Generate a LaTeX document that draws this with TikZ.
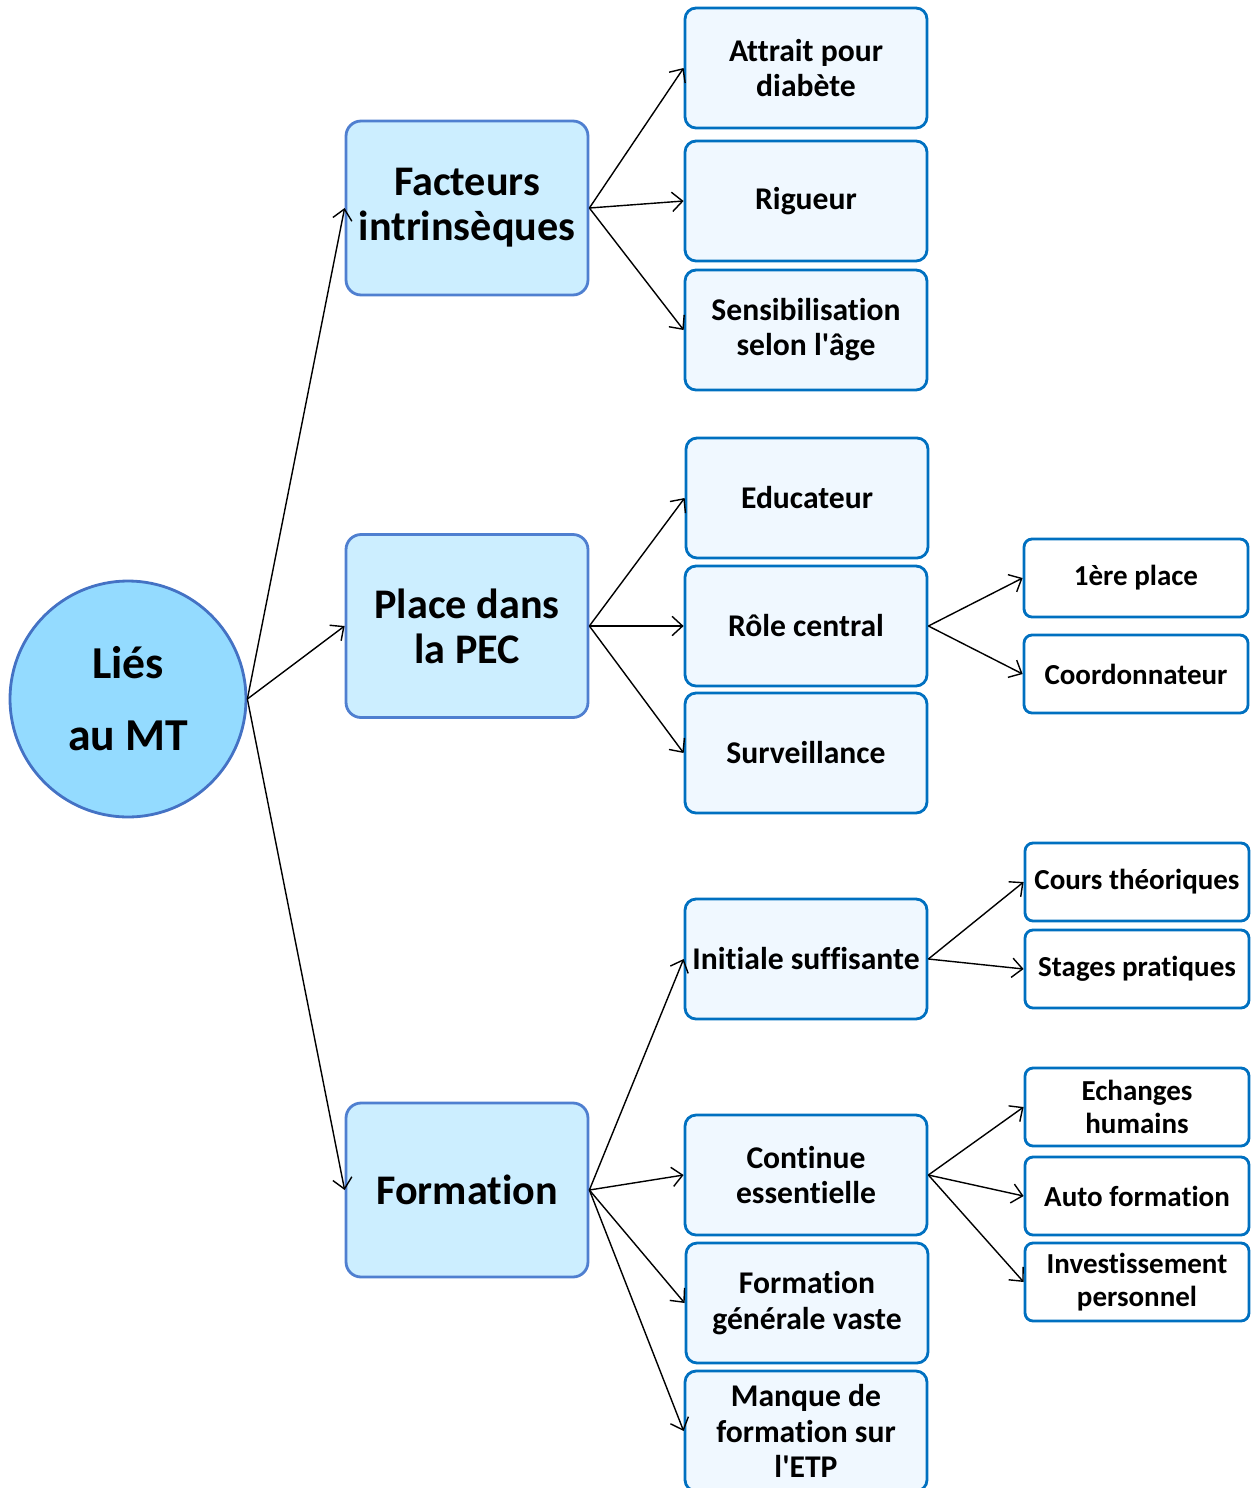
\documentclass[tikz,border=0pt]{standalone}
\usepackage{fontspec}
\setmainfont{Carlito}[Ligatures={TeXOff,NoCommon}, RawFeature={-liga;-clig;-calt;-dlig}]
\usetikzlibrary{arrows.meta}
\definecolor{rootfill}{HTML}{94DBFF}
\definecolor{rootline}{HTML}{4472C4}
\definecolor{topicfill}{HTML}{CCEEFF}
\definecolor{topicline}{HTML}{4F7FD0}
\definecolor{itemfill}{HTML}{F0F8FF}
\definecolor{itemline}{HTML}{0070C0}
\begin{document}
\begin{tikzpicture}[
        x=0.02cm, y=-0.02cm,
        root/.style={circle, draw=rootline, line width=1.6pt, fill=rootfill, minimum size=4.72cm, align=center, font=\fontsize{26}{41}\selectfont\bfseries},
        topic/.style={rectangle, rounded corners=0.3cm, draw=topicline, line width=1.6pt, fill=topicfill, minimum width=4.84cm, minimum height=3.48cm, inner sep=2pt, align=center, font=\fontsize{24}{25.5}\selectfont\bfseries},
        item/.style={rectangle, rounded corners=0.22cm, draw=itemline, line width=1.6pt, fill=itemfill, minimum width=4.84cm, minimum height=2.4cm, inner sep=2pt, align=center, font=\fontsize{18}{20}\selectfont\bfseries},
        leaf/.style={rectangle, rounded corners=0.16cm, draw=itemline, line width=1.6pt, fill=white, minimum width=4.48cm, minimum height=1.56cm, inner sep=2pt, align=center, font=\fontsize{16.5}{18.8}\selectfont\bfseries},
        arrow/.style={-{Straight Barb[length=6pt,width=11pt]}, line width=0.8pt}
      ]
        \useasboundingbox (0,0) rectangle (1253,1488);

        % Root
        \node[root] (lies) at (128,699) {Liés\\au MT};

        % First level
        \node[topic] (facteurs) at (467,208) {Facteurs\\intrinsèques};
        \node[topic, minimum height=3.66cm] (place) at (467,626) {Place dans\\la PEC};
        \node[topic] (formation) at (467,1190) {Formation};

        % Second level - under Facteurs
        \node[item] (attrait) at (806,68) {Attrait pour\\diabète};
        \node[item] (rigueur) at (806,201) {Rigueur};
        \node[item] (sensib) at (806,330) {Sensibilisation\\selon l'âge};

        % Second level - under Place
        \node[item] (educateur) at (807,498) {Educateur};
        \node[item] (role) at (806,626) {Rôle central};
        \node[item] (surveillance) at (806,753) {Surveillance};

        % Second level - under Formation
        \node[item] (initiale) at (806,959) {Initiale suffisante};
        \node[item] (continue) at (806,1175) {Continue\\essentielle};
        \node[item] (generale) at (807,1303) {Formation\\générale vaste};
        \node[item] (manque) at (806,1431) {Manque de\\formation sur\\l'ETP};

        % Third level
        \node[leaf] (premiere) at (1136,578) {1ère place};
        \node[leaf] (coord) at (1136,674) {Coordonnateur};
        \node[leaf] (cours) at (1137,882) {Cours théoriques};
        \node[leaf] (stages) at (1137,969) {Stages pratiques};
        \node[leaf] (echanges) at (1137,1107) {Echanges\\humains};
        \node[leaf] (autoform) at (1137,1196) {Auto formation};
        \node[leaf] (invest) at (1137,1282) {Investissement\\personnel};

        % Arrows
        \draw[arrow] (lies.east) -- (facteurs.west);
        \draw[arrow] (lies.east) -- (place.west);
        \draw[arrow] (lies.east) -- (formation.west);
        \draw[arrow] (facteurs.east) -- (attrait.west);
        \draw[arrow] (facteurs.east) -- (rigueur.west);
        \draw[arrow] (facteurs.east) -- (sensib.west);
        \draw[arrow] (place.east) -- (educateur.west);
        \draw[arrow] (place.east) -- (role.west);
        \draw[arrow] (place.east) -- (surveillance.west);
        \draw[arrow] (role.east) -- (premiere.west);
        \draw[arrow] (role.east) -- (coord.west);
        \draw[arrow] (formation.east) -- (initiale.west);
        \draw[arrow] (formation.east) -- (continue.west);
        \draw[arrow] (formation.east) -- (generale.west);
        \draw[arrow] (formation.east) -- (manque.west);
        \draw[arrow] (initiale.east) -- (cours.west);
        \draw[arrow] (initiale.east) -- (stages.west);
        \draw[arrow] (continue.east) -- (echanges.west);
        \draw[arrow] (continue.east) -- (autoform.west);
        \draw[arrow] (continue.east) -- (invest.west);
      \end{tikzpicture}
\end{document}
